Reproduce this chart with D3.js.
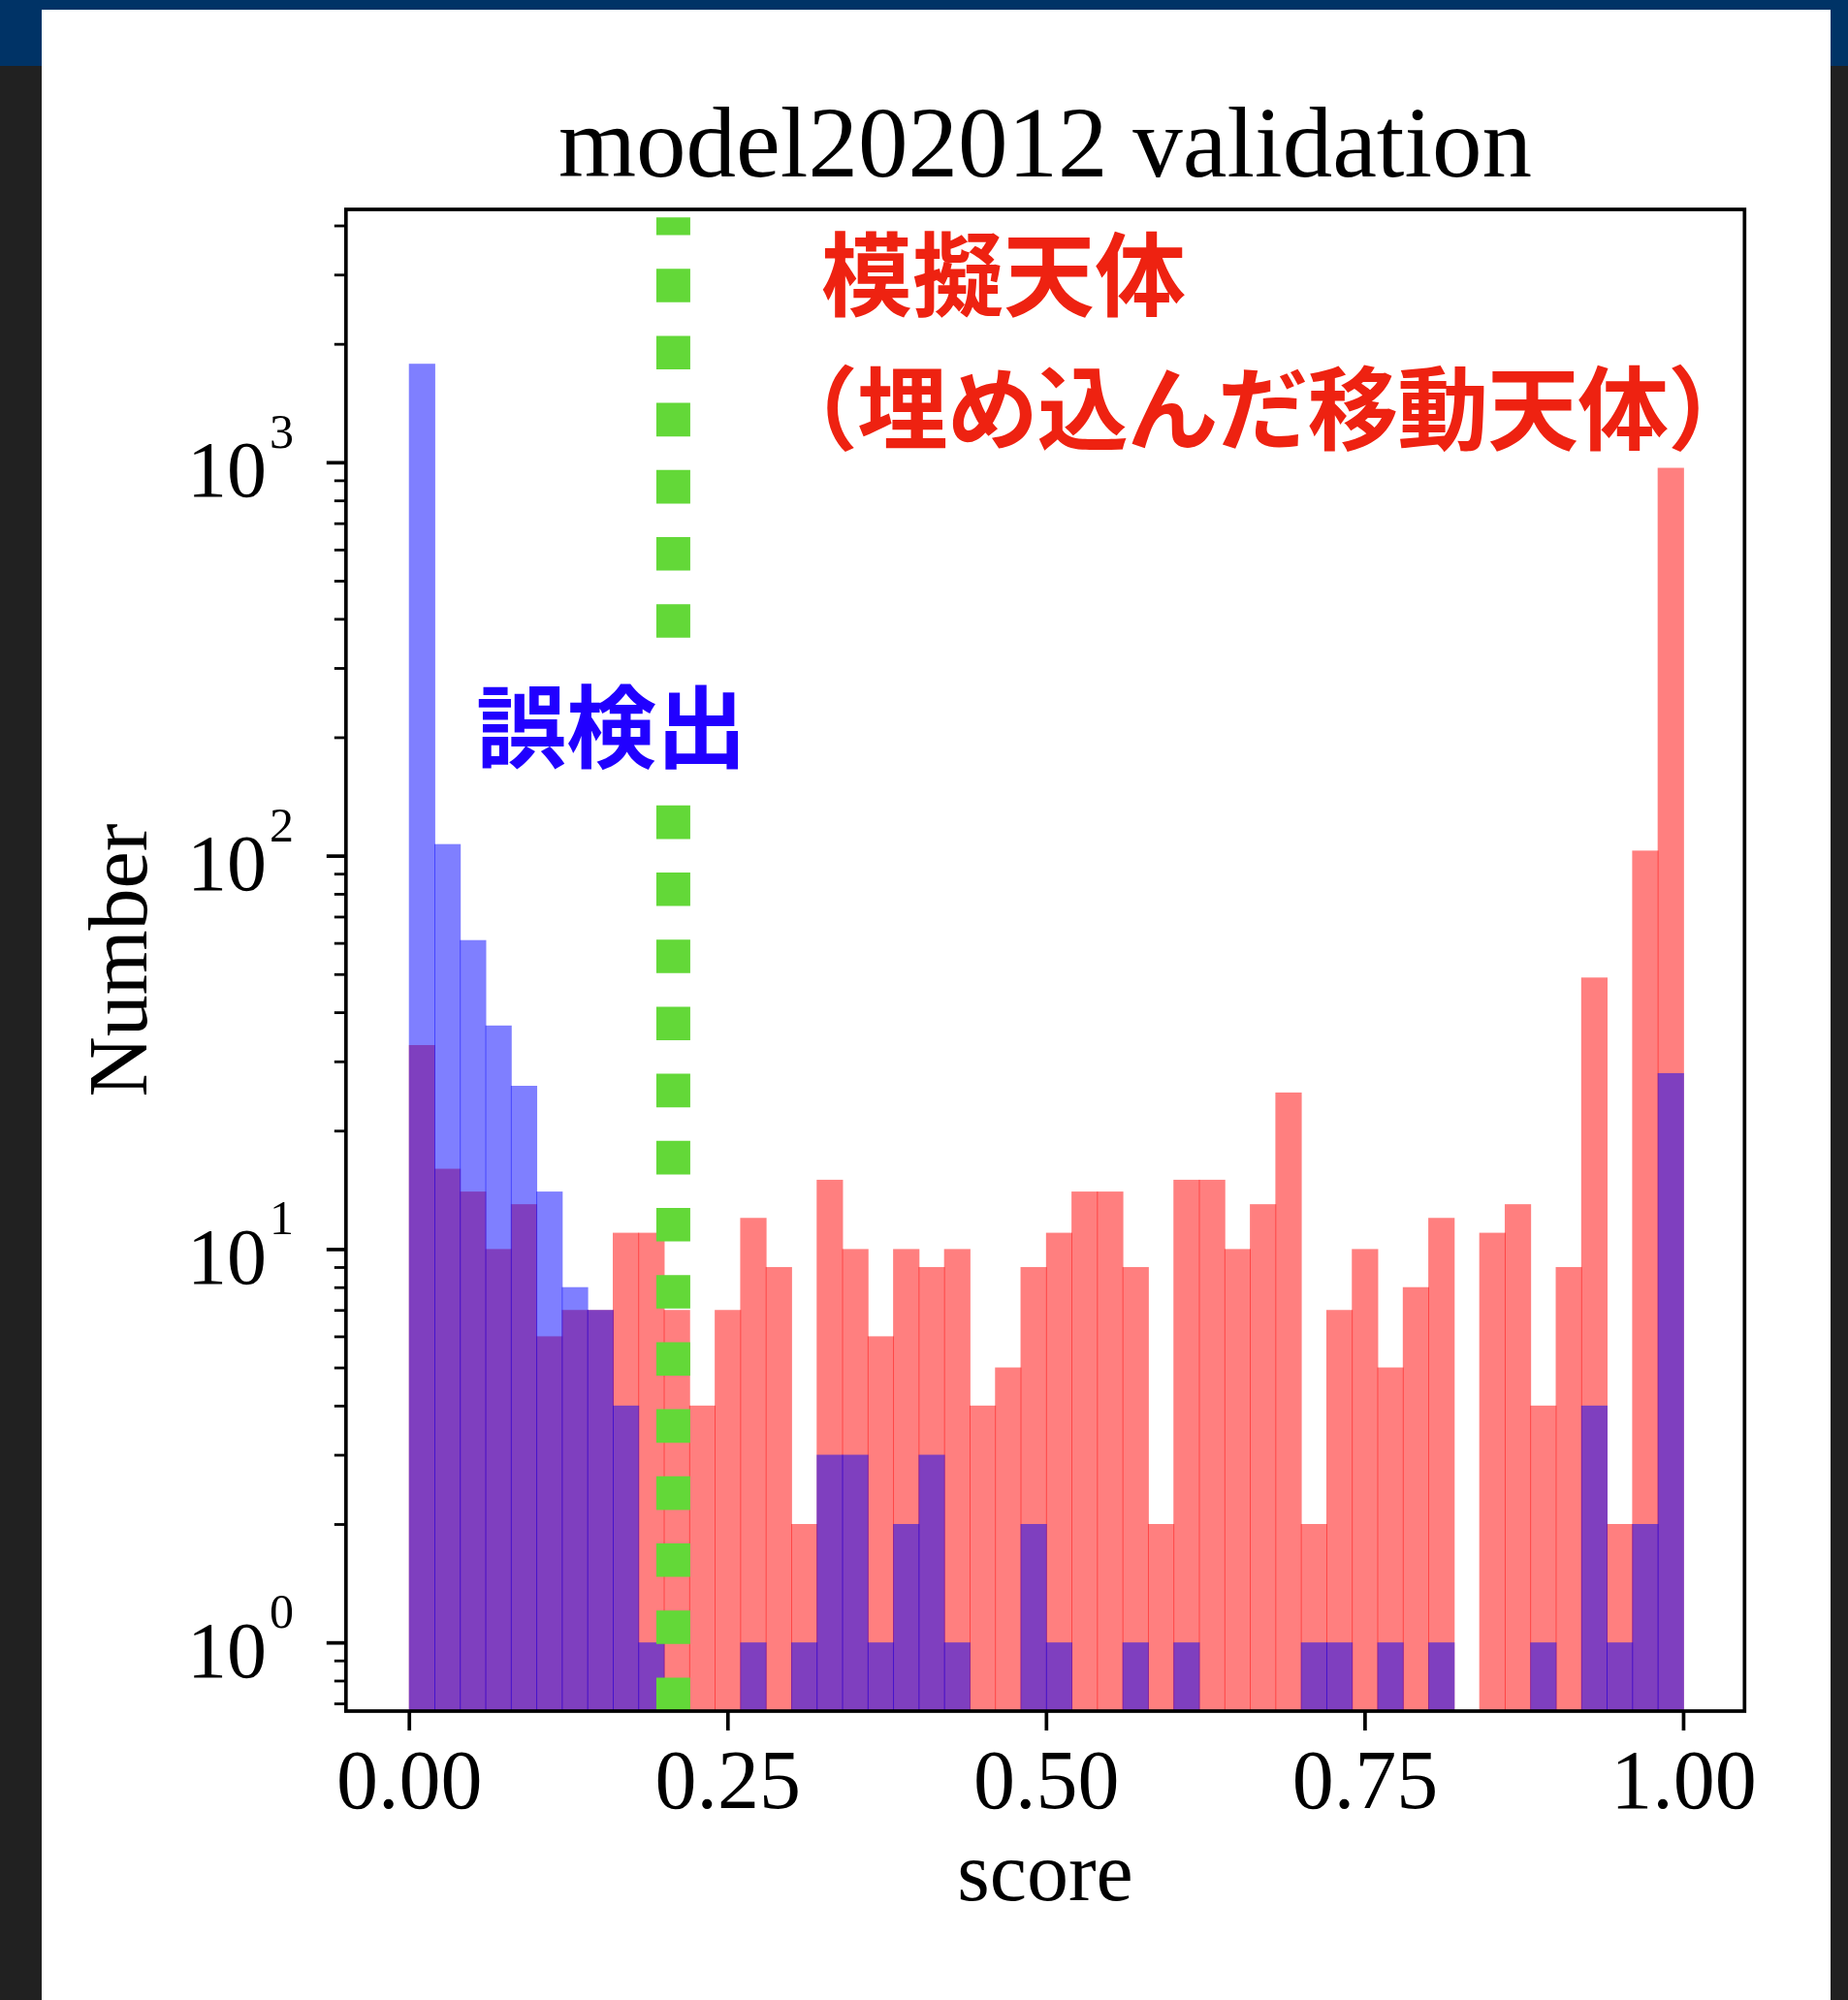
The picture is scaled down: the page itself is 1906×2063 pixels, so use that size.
<!DOCTYPE html>
<html>
<head>
<meta charset="utf-8">
<script src="https://cdn.jsdelivr.net/npm/d3@7"></script>
<style>
html,body{margin:0;padding:0;background:#212121;}
svg{display:block;}
</style>
</head>
<body>
<svg id="chart" width="1906" height="2063"></svg>
<script>
// ---------------- data ----------------
const binLefts = [0.00,0.02,0.04,0.06,0.08,0.10,0.12,0.14,0.16,0.18,
                  0.20,0.22,0.24,0.26,0.28,0.30,0.32,0.34,0.36,0.38,
                  0.40,0.42,0.44,0.46,0.48,0.50,0.52,0.54,0.56,0.58,
                  0.60,0.62,0.64,0.66,0.68,0.70,0.72,0.74,0.76,0.78,
                  0.80,0.82,0.84,0.86,0.88,0.90,0.92,0.94,0.96,0.98];
const binWidth = 0.02;
// 模擬天体（埋め込んだ移動天体） – red histogram
const simulatedCounts = [33,16,14,10,13,6,7,7,11,11,
                         7,4,7,12,9,2,15,10,6,10,
                         9,10,4,5,9,11,14,14,9,2,
                         15,15,10,13,25,2,7,10,5,8,
                         12,0,11,13,4,9,49,2,103,968];
// 誤検出 – blue histogram
const falseDetectionCounts = [1780,107,61,37,26,14,8,7,4,1,
                              0,0,0,1,0,1,3,3,1,2,
                              3,1,0,0,2,1,0,0,1,0,
                              1,0,0,0,0,1,1,0,1,0,
                              1,0,0,0,1,0,4,1,2,28];
const xTickValues = [0, 0.25, 0.5, 0.75, 1.0];
const xTickLabels = ["0.00","0.25","0.50","0.75","1.00"];
const yTickValues = [1, 10, 100, 1000];
const yTickExponents = ["0","1","2","3"];
const thresholdScore = 0.2075;
const thresholdLineTop = 4190;
const titleText = "model202012 validation";
const xLabelText = "score";
const yLabelText = "Number";
const redLabelLines = ["模擬天体", "（埋め込んだ移動天体）"];
const blueLabelText = "誤検出";

// ---------------- layout ----------------
const W = 1906, H = 2063;
const plot = {left: 356.8, right: 1799.3, top: 216, bottom: 1765};
const serif = "'Liberation Serif','Times New Roman',serif";
const cjk = "'Noto Sans CJK JP','Noto Sans CJK SC',sans-serif";

const svg = d3.select("#chart");

// page background pieces
svg.append("rect").attr("x",0).attr("y",0).attr("width",W).attr("height",H).attr("fill","#212121");
svg.append("rect").attr("x",0).attr("y",0).attr("width",W).attr("height",68).attr("fill","#003366");
svg.append("rect").attr("x",43).attr("y",10).attr("width",1888-43).attr("height",H-10).attr("fill","#ffffff");

const x = d3.scaleLinear().domain([-0.0494, 1.0482]).range([plot.left, plot.right]);
const y = d3.scaleLog().domain([0.669, 4393]).range([plot.bottom, plot.top]);

svg.append("clipPath").attr("id","plotclip")
  .append("rect").attr("x",plot.left).attr("y",plot.top)
  .attr("width",plot.right-plot.left).attr("height",plot.bottom-plot.top);

const barsG = svg.append("g").attr("clip-path","url(#plotclip)");

function drawHist(counts, color){
  const data = binLefts.map((b,i)=>({b, c: counts[i]})).filter(d=>d.c>0);
  barsG.append("g").selectAll("rect").data(data).join("rect")
    .attr("x", d => x(d.b))
    .attr("width", d => x(d.b + binWidth) - x(d.b) + 0.9)
    .attr("y", d => y(d.c))
    .attr("height", d => plot.bottom + 5 - y(d.c))
    .attr("fill", color)
    .attr("fill-opacity", 0.5);
}
drawHist(simulatedCounts, "#ff0000");
drawHist(falseDetectionCounts, "#0000ff");

// threshold dotted line
barsG.append("line")
  .attr("x1", x(thresholdScore)).attr("x2", x(thresholdScore))
  .attr("y1", y(y.domain()[0])).attr("y2", y(thresholdLineTop))
  .attr("stroke","#63d838").attr("stroke-width",35)
  .attr("stroke-dasharray","34.6 34.6");

// blue annotation with white box
svg.append("rect").attr("x",480).attr("y",680).attr("width",295).attr("height",135).attr("fill","#ffffff");
svg.append("text").attr("x",491).attr("y",785)
  .attr("font-family",cjk).attr("font-weight",700).attr("font-size",93)
  .attr("fill","#2100ff").text(blueLabelText);

// red annotation
svg.append("text").attr("x",847).attr("y",318.5)
  .attr("font-family",cjk).attr("font-weight",700).attr("font-size",94)
  .attr("fill","#ee2211").text(redLabelLines[0]);
svg.append("text").attr("x",791).attr("y",457)
  .attr("font-family",cjk).attr("font-weight",700).attr("font-size",94)
  .attr("letter-spacing",-1.1)
  .attr("fill","#ee2211").text(redLabelLines[1]);

// axes
const xAxis = d3.axisBottom(x).tickValues(xTickValues)
  .tickFormat((d,i)=>xTickLabels[i]).tickSize(20).tickPadding(0);
const xg = svg.append("g").attr("transform",`translate(0,${plot.bottom})`).call(xAxis);
xg.select(".domain").remove();
xg.selectAll(".tick line").attr("stroke","#000").attr("stroke-width",3.7);
xg.selectAll(".tick text").attr("dy",null).attr("y",100)
  .attr("font-family",serif).attr("font-size",86).attr("fill","#000");

const yAxisMajor = d3.axisLeft(y).tickValues(yTickValues).tickFormat("").tickSize(20);
const ygMaj = svg.append("g").attr("transform",`translate(${plot.left},0)`).call(yAxisMajor);
ygMaj.select(".domain").remove();
ygMaj.selectAll(".tick line").attr("stroke","#000").attr("stroke-width",3.7);

const minorVals = y.ticks().filter(v => Math.abs(Math.log10(v) - Math.round(Math.log10(v))) > 1e-6);
const yAxisMinor = d3.axisLeft(y).tickValues(minorVals).tickFormat("").tickSize(12);
const ygMin = svg.append("g").attr("transform",`translate(${plot.left},0)`).call(yAxisMinor);
ygMin.select(".domain").remove();
ygMin.selectAll(".tick line").attr("stroke","#000").attr("stroke-width",2.8);

// y tick labels 10^n
const yl = svg.append("g").selectAll("text").data(yTickValues).join("text")
  .attr("x", 303).attr("y", d => y(d) + 35.5)
  .attr("text-anchor","end").attr("font-family",serif).attr("fill","#000");
yl.append("tspan").attr("font-size",82).text("10");
yl.append("tspan").attr("font-size",50).attr("dx",3).attr("dy",-50.6).text((d,i)=>yTickExponents[i]);

// spines
svg.append("rect").attr("x",plot.left).attr("y",plot.top)
  .attr("width",plot.right-plot.left).attr("height",plot.bottom-plot.top)
  .attr("fill","none").attr("stroke","#000").attr("stroke-width",3.7);

// title & labels
svg.append("text").attr("x",(plot.left+plot.right)/2).attr("y",182.3)
  .attr("text-anchor","middle").attr("font-family",serif).attr("font-size",103)
  .attr("fill","#000").text(titleText);
svg.append("text").attr("x",(plot.left+plot.right)/2).attr("y",1960)
  .attr("text-anchor","middle").attr("font-family",serif).attr("font-size",86)
  .attr("fill","#000").text(xLabelText);
svg.append("text").attr("transform",`translate(151,${(plot.top+plot.bottom)/2}) rotate(-90)`)
  .attr("text-anchor","middle").attr("font-family",serif).attr("font-size",86)
  .attr("fill","#000").text(yLabelText);
</script>
</body>
</html>
